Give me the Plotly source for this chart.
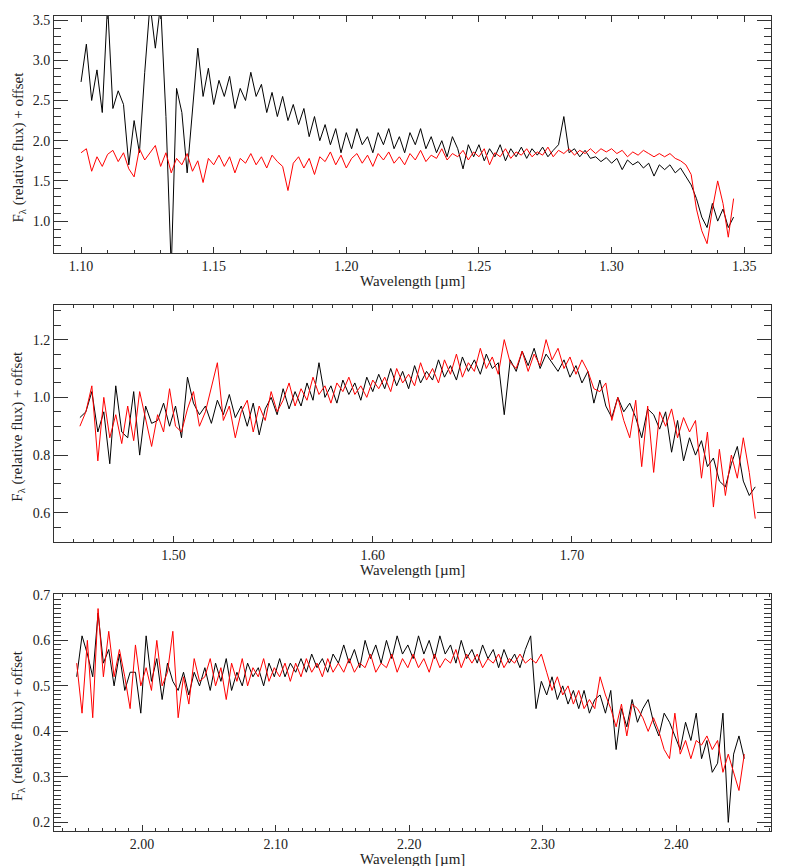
import plotly.graph_objects as go
from plotly.subplots import make_subplots

# ---- J band ----
wl_j = [
    1.100, 1.102, 1.104, 1.106, 1.108, 1.110, 1.112, 1.114, 1.116, 1.118,
    1.120, 1.122, 1.124, 1.126, 1.128, 1.130, 1.132, 1.134, 1.136, 1.138,
    1.140, 1.142, 1.144, 1.146, 1.148, 1.150, 1.152, 1.154, 1.156, 1.158,
    1.160, 1.162, 1.164, 1.166, 1.168, 1.170, 1.172, 1.174, 1.176, 1.178,
    1.180, 1.182, 1.184, 1.186, 1.188, 1.190, 1.192, 1.194, 1.196, 1.198,
    1.200, 1.202, 1.204, 1.206, 1.208, 1.210, 1.212, 1.214, 1.216, 1.218,
    1.220, 1.222, 1.224, 1.226, 1.228, 1.230, 1.232, 1.234, 1.236, 1.238,
    1.240, 1.242, 1.244, 1.246, 1.248, 1.250, 1.252, 1.254, 1.256, 1.258,
    1.260, 1.262, 1.264, 1.266, 1.268, 1.270, 1.272, 1.274, 1.276, 1.278,
    1.280, 1.282, 1.284, 1.286, 1.288, 1.290, 1.292, 1.294, 1.296, 1.298,
    1.300, 1.302, 1.304, 1.306, 1.308, 1.310, 1.312, 1.314, 1.316, 1.318,
    1.320, 1.322, 1.324, 1.326, 1.328, 1.330, 1.332, 1.334, 1.336, 1.338,
    1.340, 1.342, 1.344, 1.346,
]
flux_j_black = [
    2.73, 3.20, 2.50, 2.88, 2.35, 3.70, 2.40, 2.62, 2.45, 1.70,
    2.25, 1.85, 2.85, 3.70, 3.15, 3.70, 2.30, 0.40, 2.65, 2.35,
    1.60, 2.40, 3.15, 2.55, 2.90, 2.45, 2.75, 2.55, 2.80, 2.40,
    2.65, 2.50, 2.85, 2.55, 2.70, 2.35, 2.60, 2.30, 2.55, 2.25,
    2.45, 2.20, 2.40, 2.05, 2.30, 2.00, 2.20, 1.95, 2.15, 1.85,
    2.10, 1.90, 2.15, 1.95, 2.05, 1.85, 2.10, 1.95, 2.15, 1.90,
    2.05, 1.85, 2.10, 1.95, 2.15, 1.90, 2.05, 1.85, 2.00, 1.80,
    2.05, 1.90, 1.65, 1.95, 1.80, 1.95, 1.75, 1.90, 1.80, 1.95,
    1.75, 1.90, 1.80, 1.92, 1.78, 1.90, 1.82, 1.92, 1.80, 1.88,
    1.95, 2.30, 1.85, 1.90, 1.80, 1.88, 1.78, 1.80, 1.74, 1.79,
    1.72, 1.78, 1.64, 1.76, 1.70, 1.74, 1.66, 1.72, 1.56, 1.70,
    1.64, 1.70, 1.60, 1.66, 1.55, 1.45, 1.28, 1.05, 0.92, 1.22,
    1.00, 1.15, 0.92, 1.05,
]
flux_j_red = [
    1.85, 1.90, 1.62, 1.80, 1.68, 1.83, 1.88, 1.74, 1.85, 1.65,
    1.55, 1.90, 1.76, 1.85, 1.94, 1.68, 1.85, 1.60, 1.78, 1.70,
    1.84, 1.62, 1.75, 1.48, 1.78, 1.70, 1.82, 1.68, 1.80, 1.60,
    1.78, 1.72, 1.84, 1.70, 1.80, 1.66, 1.82, 1.74, 1.68, 1.38,
    1.72, 1.80, 1.66, 1.78, 1.58, 1.80, 1.74, 1.86, 1.70, 1.82,
    1.66, 1.78, 1.84, 1.72, 1.82, 1.68, 1.84, 1.76, 1.86, 1.72,
    1.80, 1.70, 1.84, 1.76, 1.88, 1.74, 1.82, 1.78, 1.90, 1.76,
    1.84, 1.80, 1.88, 1.76, 1.86, 1.80, 1.90, 1.70, 1.85, 1.80,
    1.90, 1.78, 1.86, 1.82, 1.90, 1.80, 1.86, 1.82, 1.92, 1.80,
    1.88, 1.84, 1.90, 1.82, 1.88, 1.84, 1.90, 1.84, 1.90, 1.86,
    1.90, 1.84, 1.88, 1.80, 1.86, 1.82, 1.88, 1.84, 1.80, 1.84,
    1.80, 1.84, 1.78, 1.75, 1.70, 1.58, 1.15, 0.88, 0.72, 1.15,
    1.50, 1.22, 0.80, 1.28,
]

# ---- H band ----
wl_h = [
    1.453, 1.456, 1.459, 1.462, 1.465, 1.468, 1.471, 1.474, 1.477, 1.480,
    1.483, 1.486, 1.489, 1.492, 1.495, 1.498, 1.501, 1.504, 1.507, 1.510,
    1.513, 1.516, 1.519, 1.522, 1.525, 1.528, 1.531, 1.534, 1.537, 1.540,
    1.543, 1.546, 1.549, 1.552, 1.555, 1.558, 1.561, 1.564, 1.567, 1.570,
    1.573, 1.576, 1.579, 1.582, 1.585, 1.588, 1.591, 1.594, 1.597, 1.600,
    1.603, 1.606, 1.609, 1.612, 1.615, 1.618, 1.621, 1.624, 1.627, 1.630,
    1.633, 1.636, 1.639, 1.642, 1.645, 1.648, 1.651, 1.654, 1.657, 1.660,
    1.663, 1.666, 1.669, 1.672, 1.675, 1.678, 1.681, 1.684, 1.687, 1.690,
    1.693, 1.696, 1.699, 1.702, 1.705, 1.708, 1.711, 1.714, 1.717, 1.720,
    1.723, 1.726, 1.729, 1.732, 1.735, 1.738, 1.741, 1.744, 1.747, 1.750,
    1.753, 1.756, 1.759, 1.762, 1.765, 1.768, 1.771, 1.774, 1.777, 1.780,
    1.783, 1.786, 1.789, 1.792,
]
flux_h_black = [
    0.93, 0.95, 1.02, 0.88, 0.95, 0.77, 1.04, 0.88, 0.86, 1.02,
    0.80, 0.97, 0.91, 0.92, 0.98, 0.90, 0.97, 0.86, 1.07, 0.98,
    0.94, 0.97, 0.91, 0.99, 0.94, 1.01, 0.93, 0.97, 0.90, 0.98,
    0.87, 0.96, 1.00, 0.94, 1.03, 0.96, 1.02, 0.97, 1.05, 0.99,
    1.12, 1.00, 1.04, 0.98, 1.06, 1.01, 1.05, 0.99, 1.07, 1.02,
    1.08, 1.03, 1.10, 1.04, 1.09, 1.03, 1.11, 1.05, 1.09, 1.06,
    1.13, 1.07, 1.11, 1.06, 1.14, 1.09, 1.13, 1.08, 1.15, 1.10,
    1.12, 0.94, 1.13, 1.09, 1.16, 1.11, 1.17, 1.10, 1.15, 1.12,
    1.09, 1.13, 1.07, 1.11, 1.05, 1.09, 0.98, 1.06, 0.97, 0.93,
    1.00, 0.95, 0.98, 0.93, 0.86, 0.96, 0.94, 0.89, 0.95, 0.81,
    0.92, 0.78, 0.86, 0.80, 0.85, 0.76, 0.79, 0.71, 0.69, 0.77,
    0.83, 0.71, 0.66, 0.69,
]
flux_h_red = [
    0.90, 0.95, 1.04, 0.78, 1.00, 0.86, 0.94, 0.84, 0.97, 0.85,
    1.02, 0.93, 0.83, 0.94, 0.88, 1.03, 0.90, 0.88, 0.96, 1.02,
    0.90, 0.95, 1.03, 1.12, 0.92, 0.97, 0.86, 0.95, 0.99, 0.88,
    0.97, 0.92, 1.02, 0.95, 0.99, 1.05, 0.97, 1.03, 0.99, 1.07,
    1.01, 1.04, 0.98, 1.05, 1.02, 1.07, 1.01, 1.04, 1.00, 1.06,
    1.03, 1.07, 1.02, 1.10, 1.05, 1.08, 1.04, 1.12, 1.06, 1.10,
    1.05, 1.13, 1.08, 1.15, 1.07, 1.12, 1.09, 1.17, 1.10, 1.14,
    1.08, 1.20, 1.12, 1.10, 1.16, 1.09, 1.15, 1.11, 1.20, 1.13,
    1.17, 1.10, 1.14, 1.08, 1.13, 1.09, 1.03, 1.02, 1.05, 0.92,
    1.00, 0.92, 0.86, 0.99, 0.76, 0.97, 0.74, 0.95, 0.90, 0.96,
    0.86, 0.93, 0.88, 0.92, 0.72, 0.88, 0.62, 0.82, 0.66, 0.80,
    0.72, 0.86, 0.74, 0.58,
]

# ---- K band ----
wl_k = [
    1.951, 1.955, 1.959, 1.963, 1.967, 1.971, 1.975, 1.979, 1.983, 1.987,
    1.991, 1.995, 1.999, 2.003, 2.007, 2.011, 2.015, 2.019, 2.023, 2.027,
    2.031, 2.035, 2.039, 2.043, 2.047, 2.051, 2.055, 2.059, 2.063, 2.067,
    2.071, 2.075, 2.079, 2.083, 2.087, 2.091, 2.095, 2.099, 2.103, 2.107,
    2.111, 2.115, 2.119, 2.123, 2.127, 2.131, 2.135, 2.139, 2.143, 2.147,
    2.151, 2.155, 2.159, 2.163, 2.167, 2.171, 2.175, 2.179, 2.183, 2.187,
    2.191, 2.195, 2.199, 2.203, 2.207, 2.211, 2.215, 2.219, 2.223, 2.227,
    2.231, 2.235, 2.239, 2.243, 2.247, 2.251, 2.255, 2.259, 2.263, 2.267,
    2.271, 2.275, 2.279, 2.283, 2.287, 2.291, 2.295, 2.299, 2.303, 2.307,
    2.311, 2.315, 2.319, 2.323, 2.327, 2.331, 2.335, 2.339, 2.343, 2.347,
    2.351, 2.355, 2.359, 2.363, 2.367, 2.371, 2.375, 2.379, 2.383, 2.387,
    2.391, 2.395, 2.399, 2.403, 2.407, 2.411, 2.415, 2.419, 2.423, 2.427,
    2.431, 2.435, 2.439, 2.443, 2.447, 2.451,
]
flux_k_black = [
    0.52, 0.61, 0.57, 0.52, 0.66, 0.55, 0.58, 0.50, 0.57, 0.49,
    0.53, 0.53, 0.44, 0.61, 0.51, 0.56, 0.47, 0.55, 0.51, 0.49,
    0.53, 0.48, 0.53, 0.50, 0.54, 0.49, 0.55, 0.51, 0.56, 0.49,
    0.53, 0.50, 0.55, 0.52, 0.54, 0.50, 0.55, 0.52, 0.56, 0.52,
    0.55, 0.53, 0.56, 0.53, 0.57, 0.54, 0.56, 0.53, 0.57, 0.55,
    0.59, 0.55, 0.58, 0.54, 0.60, 0.56, 0.59, 0.55, 0.60, 0.56,
    0.61, 0.57, 0.59, 0.56, 0.61, 0.57, 0.60, 0.56, 0.61, 0.57,
    0.59, 0.55, 0.60, 0.56, 0.58, 0.55, 0.59, 0.56, 0.58, 0.54,
    0.58, 0.55, 0.57, 0.54, 0.58, 0.61, 0.45, 0.51, 0.48, 0.52,
    0.47, 0.50, 0.46, 0.49, 0.45, 0.49, 0.44, 0.47, 0.48, 0.44,
    0.49, 0.36, 0.45, 0.41, 0.47, 0.42, 0.45, 0.47, 0.42, 0.39,
    0.44, 0.42, 0.39, 0.36, 0.42, 0.38, 0.44, 0.34, 0.38, 0.31,
    0.33, 0.44, 0.20, 0.35, 0.39, 0.34,
]
flux_k_red = [
    0.55, 0.44, 0.60, 0.43, 0.67, 0.52, 0.62, 0.52, 0.58, 0.52,
    0.45, 0.59, 0.50, 0.54, 0.49, 0.60, 0.50, 0.53, 0.62, 0.43,
    0.52, 0.46, 0.56, 0.51, 0.52, 0.56, 0.50, 0.54, 0.47, 0.55,
    0.51, 0.56, 0.50, 0.54, 0.52, 0.56, 0.51, 0.54, 0.52, 0.55,
    0.51, 0.55, 0.52, 0.56, 0.53, 0.55, 0.52, 0.56, 0.53, 0.55,
    0.53, 0.56, 0.53, 0.55, 0.54, 0.57, 0.53, 0.55, 0.54, 0.57,
    0.53, 0.56, 0.54, 0.57, 0.54, 0.56, 0.53, 0.57, 0.54, 0.56,
    0.55, 0.58, 0.54, 0.57, 0.55, 0.57, 0.54, 0.56, 0.55, 0.57,
    0.54, 0.56, 0.55, 0.57, 0.55, 0.56, 0.55, 0.57, 0.53, 0.49,
    0.52, 0.48, 0.50, 0.46, 0.49, 0.45, 0.47, 0.45, 0.52, 0.48,
    0.45, 0.41, 0.46, 0.39, 0.46, 0.45, 0.43, 0.40, 0.43, 0.40,
    0.36, 0.34, 0.44, 0.35, 0.38, 0.34, 0.38, 0.37, 0.39, 0.36,
    0.38, 0.31, 0.35, 0.31, 0.27, 0.35,
]

for wl, fb, fr in [(wl_j, flux_j_black, flux_j_red),
                   (wl_h, flux_h_black, flux_h_red),
                   (wl_k, flux_k_black, flux_k_red)]:
    assert len(wl) == len(fb) == len(fr), (len(wl), len(fb), len(fr))

# the page body has an 8px margin, so layout pixel positions are shifted by it
OFF = 8
W, H = 786 - OFF, 866 - OFF
FONT = "Liberation Serif, Times New Roman, serif"
AX = "#333333"

fig = make_subplots(rows=3, cols=1)

panels = [
    # data, x range, x dtick, x minor, y range, y dtick, y minor, frame top/bottom px, ytitle centre px
    (wl_j, flux_j_black, flux_j_red, [1.0898, 1.3601], 0.05, 0.01, [0.6, 3.55], 0.5, 0.1, 16, 253.3, 147.5),
    (wl_h, flux_h_black, flux_h_red, [1.44, 1.7999], 0.1, 0.01, [0.5, 1.32], 0.2, 0.05, 305, 541.7, 426.7),
    (wl_k, flux_k_black, flux_k_red, [1.934, 2.471], 0.1, 0.01, [0.181, 0.702], 0.1, 0.01, 594, 831, 726),
]

x0, x1 = 54 - OFF, 771 - OFF
for i, (wl, fb, fr, xr, xd, xm, yr, yd, ym, top, bot, ymid) in enumerate(panels, start=1):
    top, bot, ymid = top - OFF, bot - OFF, ymid - OFF
    fig.add_trace(go.Scatter(x=wl, y=fb, mode="lines",
                             line=dict(color="#000000", width=1), showlegend=False), row=i, col=1)
    fig.add_trace(go.Scatter(x=wl, y=fr, mode="lines",
                             line=dict(color="#ff0000", width=1), showlegend=False), row=i, col=1)

    common = dict(showline=True, linecolor=AX, linewidth=1, mirror="allticks",
                  ticks="inside", tickcolor=AX, showgrid=False, zeroline=False,
                  automargin=False, tickfont=dict(family=FONT, size=14, color="#222"))
    fig.update_xaxes(range=xr, dtick=xd, tick0=1.0, tickformat=".2f", ticklen=6,
                     minor=dict(dtick=xm, ticks="inside", ticklen=3, tickcolor=AX, showgrid=False),
                     domain=[x0 / W, x1 / W], row=i, col=1, **common)
    fig.update_yaxes(range=yr, dtick=yd, tick0=0.0, tickformat=".1f", ticklen=14,
                     minor=dict(dtick=ym, ticks="inside", ticklen=7, tickcolor=AX, showgrid=False),
                     domain=[1 - bot / H, 1 - top / H], row=i, col=1, **common)

    fig.add_annotation(text="Wavelength [µm]", xref="paper", yref="paper",
                       x=(x0 + x1) / 2 / W, y=1 - (bot + 28) / H, showarrow=False,
                       xanchor="center", yanchor="middle",
                       font=dict(family=FONT, size=15, color="#222"))
    fig.add_annotation(text="F<sub>λ</sub> (relative flux) + offset", xref="paper", yref="paper",
                       x=(18 - OFF) / W, y=1 - ymid / H, textangle=-90, showarrow=False,
                       xanchor="center", yanchor="middle",
                       font=dict(family=FONT, size=15, color="#222"))

fig.update_layout(
    width=W, height=H,
    margin=dict(l=0, r=0, t=0, b=0),
    paper_bgcolor="white", plot_bgcolor="white",
)

fig.write_html("out.html")
